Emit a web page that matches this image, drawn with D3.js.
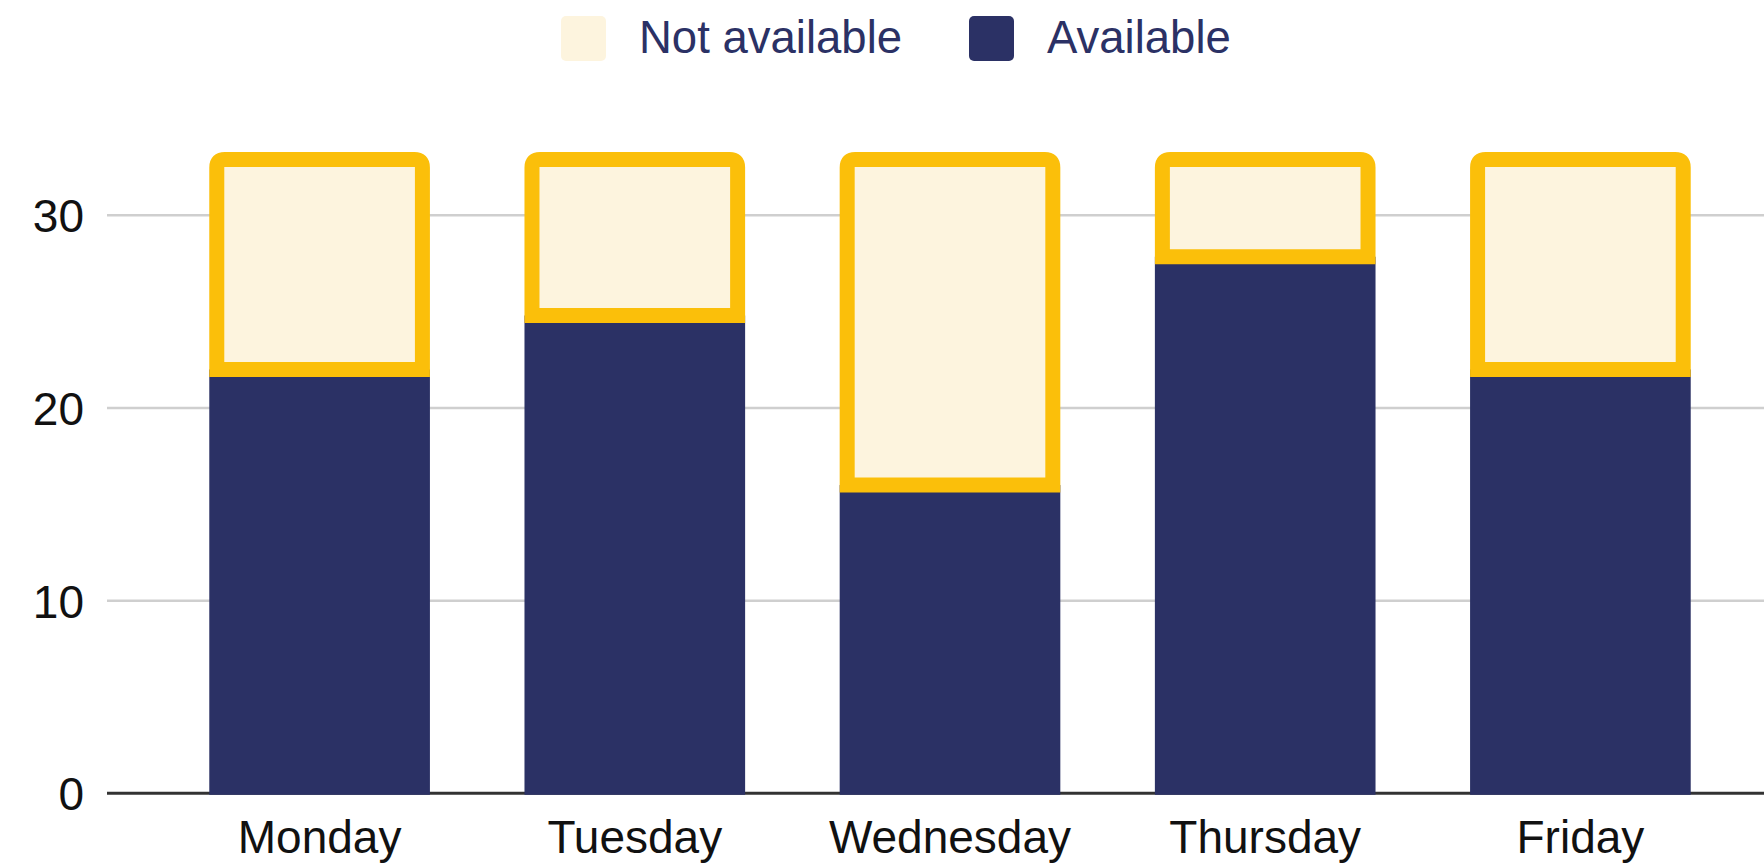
<!DOCTYPE html>
<html>
<head>
<meta charset="utf-8">
<script src="https://cdn.jsdelivr.net/npm/d3@7"></script>
<style>
  html, body { margin: 0; padding: 0; background: #ffffff; }
  svg { display: block; }
  text { font-family: "Liberation Sans", Arial, sans-serif; }
</style>
</head>
<body>
<svg id="chart" width="1764" height="868"></svg>
<script>
// ---- Data ----
const categories = ["Monday", "Tuesday", "Wednesday", "Thursday", "Friday"];
const available = [22, 24.8, 16, 27.85, 22];
const notAvailable = [10.9, 8.1, 16.9, 5.05, 10.9];
const seriesNames = ["Not available", "Available"];
const yTicks = [0, 10, 20, 30];

// ---- Styles ----
const NAVY = "#2b3165";
const CREAM = "#fdf4de";
const YELLOW = "#fbbf0a";
const GRID = "#cfcfcf";
const STROKE_W = 15;

const svg = d3.select("#chart");
const W = 1764;

const rows = categories.map((c, i) => ({ cat: c, Available: available[i], "Not available": notAvailable[i] }));
const stacked = d3.stack().keys(["Available", "Not available"])(rows);

const x = d3.scaleBand()
  .domain(categories)
  .range([162, 1738])
  .paddingInner(0.3)
  .paddingOuter(0.15);

const y = d3.scaleLinear()
  .domain([0, 30])
  .range([793.3, 215.3]);

const gridLeft = 107;

// gridlines
svg.append("g")
  .selectAll("line")
  .data(yTicks.filter(t => t !== 0))
  .join("line")
  .attr("x1", gridLeft).attr("x2", W)
  .attr("y1", d => y(d)).attr("y2", d => y(d))
  .attr("stroke", GRID).attr("stroke-width", 2.5);

// baseline
svg.append("line")
  .attr("x1", gridLeft).attr("x2", W)
  .attr("y1", y(0)).attr("y2", y(0))
  .attr("stroke", "#333333").attr("stroke-width", 3);

// y-axis labels
const yAxis = d3.axisLeft(y).tickValues(yTicks).tickSize(0).tickPadding(0);
const gy = svg.append("g").attr("transform", "translate(84,0)").call(yAxis);
gy.select(".domain").remove();
gy.selectAll("text")
  .attr("font-size", 46)
  .attr("fill", "#111111")
  .attr("font-family", "'Liberation Sans', Arial, sans-serif")
  .attr("dy", "0.36em");

// x-axis labels
const xAxis = d3.axisBottom(x).tickSize(0).tickPadding(0);
const gx = svg.append("g").attr("transform", `translate(0,${y(0)})`).call(xAxis);
gx.select(".domain").remove();
gx.selectAll("text")
  .attr("font-size", 46)
  .attr("fill", "#111111")
  .attr("font-family", "'Liberation Sans', Arial, sans-serif")
  .attr("dy", 0)
  .attr("y", 60);

// Available (navy) bars
const availLayer = stacked[0];
svg.append("g")
  .selectAll("rect")
  .data(availLayer)
  .join("rect")
  .attr("x", d => x(d.data.cat))
  .attr("width", x.bandwidth())
  .attr("y", d => y(d[1]))
  .attr("height", d => y(d[0]) - y(d[1]) + 1.5)
  .attr("fill", NAVY);

// Not available (cream with yellow outline, rounded top)
const naLayer = stacked[1];
const r = 8;
svg.append("g")
  .selectAll("path")
  .data(naLayer)
  .join("path")
  .attr("d", d => {
    const x0 = x(d.data.cat) + STROKE_W / 2;
    const x1 = x(d.data.cat) + x.bandwidth() - STROKE_W / 2;
    const yT = y(d[1]);
    const yB = y(d[0]);
    return `M${x0},${yB} L${x0},${yT + r} Q${x0},${yT} ${x0 + r},${yT} L${x1 - r},${yT} Q${x1},${yT} ${x1},${yT + r} L${x1},${yB} Z`;
  })
  .attr("fill", CREAM)
  .attr("stroke", YELLOW)
  .attr("stroke-width", STROKE_W)
  .attr("stroke-linejoin", "miter");

// Legend
const legend = svg.append("g");
const legendItems = [
  { name: seriesNames[0], fill: CREAM, sx: 561, tx: 639 },
  { name: seriesNames[1], fill: NAVY, sx: 969, tx: 1047 }
];
legendItems.forEach(it => {
  legend.append("rect")
    .attr("x", it.sx).attr("y", 16)
    .attr("width", 45).attr("height", 45)
    .attr("rx", 5)
    .attr("fill", it.fill);
  legend.append("text")
    .attr("x", it.tx).attr("y", 53)
    .attr("font-size", 45.5)
    .attr("fill", NAVY)
    .text(it.name);
});
</script>
</body>
</html>
